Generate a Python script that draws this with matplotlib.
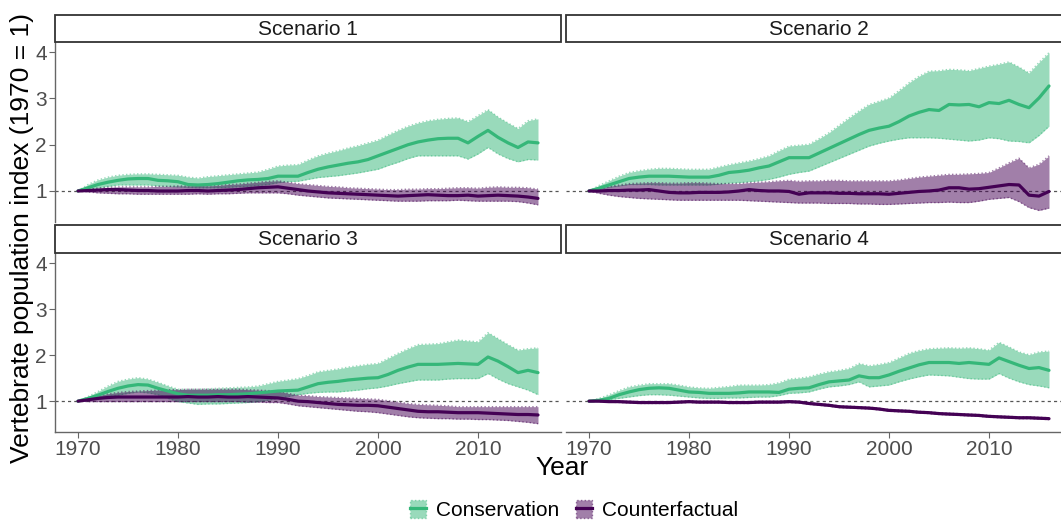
import numpy as np
import matplotlib
matplotlib.use("Agg")
import matplotlib.pyplot as plt
from matplotlib.patches import Patch, Rectangle
from matplotlib.lines import Line2D

plt.rcParams['font.family'] = ['Liberation Sans', 'DejaVu Sans']

years = list(range(1970, 2017))
scenarios = ["Scenario 1", "Scenario 2", "Scenario 3", "Scenario 4"]
x_ticks = [1970, 1980, 1990, 2000, 2010]
y_ticks = [1, 2, 3, 4]

# ---- Scenario 1 ----
s1_cons = [1.00, 1.07, 1.14, 1.19, 1.23, 1.26, 1.27, 1.27, 1.23, 1.22,
           1.20, 1.14, 1.13, 1.14, 1.16, 1.19, 1.22, 1.24, 1.25, 1.27,
           1.32, 1.32, 1.32, 1.40, 1.47, 1.52, 1.56, 1.60, 1.63, 1.68,
           1.76, 1.84, 1.92, 2.00, 2.06, 2.10, 2.13, 2.14, 2.14, 2.04,
           2.18, 2.31, 2.16, 2.04, 1.94, 2.06, 2.04]
s1_cons_lo = [1.00, 1.03, 1.07, 1.10, 1.13, 1.13, 1.13, 1.13, 1.11, 1.10,
              1.09, 1.08, 1.07, 1.07, 1.07, 1.08, 1.09, 1.10, 1.12, 1.14,
              1.18, 1.20, 1.21, 1.25, 1.29, 1.31, 1.33, 1.36, 1.39, 1.43,
              1.47, 1.55, 1.62, 1.70, 1.76, 1.76, 1.76, 1.76, 1.76, 1.69,
              1.80, 1.94, 1.80, 1.70, 1.63, 1.68, 1.67]
s1_cons_hi = [1.00, 1.14, 1.24, 1.30, 1.34, 1.36, 1.37, 1.37, 1.36, 1.35,
              1.34, 1.30, 1.28, 1.31, 1.33, 1.35, 1.37, 1.39, 1.41, 1.47,
              1.54, 1.56, 1.57, 1.67, 1.76, 1.82, 1.87, 1.93, 1.98, 2.04,
              2.10, 2.21, 2.31, 2.40, 2.47, 2.52, 2.55, 2.57, 2.58, 2.50,
              2.63, 2.76, 2.60, 2.47, 2.35, 2.52, 2.56]
s1_cf = [1.00, 1.01, 1.02, 1.03, 1.03, 1.02, 1.01, 1.01, 1.00, 1.00,
         1.00, 1.01, 1.01, 1.00, 1.01, 1.02, 1.03, 1.05, 1.07, 1.08,
         1.09, 1.06, 1.03, 1.00, 0.98, 0.96, 0.95, 0.94, 0.93, 0.92,
         0.91, 0.90, 0.89, 0.90, 0.91, 0.92, 0.91, 0.90, 0.90, 0.91,
         0.89, 0.90, 0.91, 0.90, 0.89, 0.87, 0.84]
s1_cf_lo = [1.00, 0.98, 0.96, 0.95, 0.94, 0.94, 0.93, 0.93, 0.93, 0.93,
            0.93, 0.93, 0.94, 0.93, 0.94, 0.94, 0.95, 0.96, 0.96, 0.96,
            0.96, 0.94, 0.91, 0.89, 0.87, 0.85, 0.84, 0.83, 0.82, 0.81,
            0.80, 0.79, 0.78, 0.78, 0.78, 0.79, 0.79, 0.79, 0.80, 0.79,
            0.78, 0.78, 0.78, 0.78, 0.77, 0.74, 0.70]
s1_cf_hi = [1.00, 1.04, 1.06, 1.08, 1.09, 1.09, 1.09, 1.09, 1.10, 1.10,
            1.11, 1.11, 1.12, 1.11, 1.12, 1.14, 1.15, 1.17, 1.19, 1.21,
            1.22, 1.19, 1.16, 1.14, 1.12, 1.10, 1.09, 1.07, 1.06, 1.05,
            1.04, 1.03, 1.03, 1.04, 1.04, 1.05, 1.05, 1.06, 1.07, 1.07,
            1.06, 1.08, 1.09, 1.08, 1.08, 1.07, 1.04]

# ---- Scenario 2 ----
s2_cons = [1.00, 1.06, 1.13, 1.20, 1.27, 1.30, 1.32, 1.32, 1.32, 1.31,
           1.30, 1.30, 1.30, 1.34, 1.40, 1.42, 1.45, 1.50, 1.54, 1.63,
           1.72, 1.72, 1.72, 1.82, 1.92, 2.02, 2.12, 2.22, 2.31, 2.36,
           2.40, 2.50, 2.62, 2.70, 2.76, 2.74, 2.87, 2.86, 2.87, 2.82,
           2.91, 2.89, 2.96, 2.87, 2.80, 3.01, 3.27]
s2_cons_lo = [1.00, 1.04, 1.08, 1.11, 1.14, 1.14, 1.14, 1.13, 1.13, 1.13,
              1.13, 1.13, 1.13, 1.15, 1.17, 1.18, 1.20, 1.22, 1.25, 1.30,
              1.36, 1.40, 1.43, 1.52, 1.61, 1.70, 1.79, 1.88, 1.97, 2.03,
              2.08, 2.12, 2.15, 2.15, 2.15, 2.14, 2.12, 2.10, 2.08, 2.10,
              2.15, 2.13, 2.08, 2.07, 2.04, 2.20, 2.40]
s2_cons_hi = [1.00, 1.12, 1.22, 1.32, 1.40, 1.44, 1.47, 1.49, 1.49, 1.48,
              1.47, 1.47, 1.47, 1.52, 1.57, 1.61, 1.65, 1.70, 1.76, 1.87,
              1.97, 1.99, 2.01, 2.13, 2.26, 2.42, 2.58, 2.73, 2.87, 2.94,
              3.01, 3.17, 3.34, 3.48, 3.59, 3.60, 3.63, 3.62, 3.60, 3.65,
              3.70, 3.74, 3.79, 3.68, 3.55, 3.78, 3.99]
s2_cf = [1.00, 1.00, 1.01, 1.01, 1.02, 1.02, 1.03, 1.00, 0.97, 0.96,
         0.96, 0.97, 0.97, 0.97, 0.98, 1.00, 1.03, 1.01, 1.00, 1.00,
         0.99, 0.93, 0.96, 0.96, 0.96, 0.95, 0.95, 0.94, 0.94, 0.94,
         0.93, 0.95, 0.97, 0.99, 1.00, 1.02, 1.07, 1.07, 1.04, 1.05,
         1.08, 1.11, 1.14, 1.13, 0.91, 0.89, 0.99]
s2_cf_lo = [1.00, 0.95, 0.91, 0.88, 0.86, 0.84, 0.83, 0.82, 0.81, 0.80,
            0.80, 0.80, 0.80, 0.80, 0.80, 0.80, 0.79, 0.78, 0.77, 0.76,
            0.75, 0.74, 0.74, 0.74, 0.73, 0.73, 0.73, 0.72, 0.72, 0.71,
            0.71, 0.72, 0.73, 0.74, 0.75, 0.75, 0.76, 0.75, 0.75, 0.78,
            0.82, 0.84, 0.86, 0.77, 0.64, 0.58, 0.63]
s2_cf_hi = [1.00, 1.06, 1.10, 1.13, 1.16, 1.17, 1.18, 1.18, 1.17, 1.17,
            1.18, 1.18, 1.17, 1.16, 1.16, 1.16, 1.18, 1.19, 1.20, 1.22,
            1.23, 1.21, 1.22, 1.22, 1.23, 1.23, 1.22, 1.22, 1.22, 1.22,
            1.22, 1.24, 1.27, 1.30, 1.32, 1.34, 1.36, 1.36, 1.37, 1.38,
            1.40, 1.50, 1.61, 1.71, 1.50, 1.58, 1.76]

# ---- Scenario 3 ----
s3_cons = [1.00, 1.06, 1.13, 1.21, 1.28, 1.33, 1.36, 1.35, 1.28, 1.22,
           1.16, 1.13, 1.13, 1.13, 1.14, 1.14, 1.15, 1.16, 1.18, 1.20,
           1.22, 1.23, 1.24, 1.31, 1.38, 1.41, 1.43, 1.46, 1.48, 1.50,
           1.51, 1.58, 1.67, 1.74, 1.80, 1.80, 1.80, 1.81, 1.82, 1.81,
           1.80, 1.96, 1.87, 1.75, 1.62, 1.67, 1.62]
s3_cons_lo = [1.00, 1.03, 1.06, 1.10, 1.13, 1.17, 1.20, 1.18, 1.14, 1.06,
              0.99, 0.96, 0.93, 0.94, 0.94, 0.95, 0.96, 0.97, 0.99, 1.02,
              1.06, 1.10, 1.14, 1.17, 1.19, 1.20, 1.20, 1.22, 1.24, 1.27,
              1.29, 1.33, 1.38, 1.42, 1.46, 1.46, 1.46, 1.48, 1.49, 1.49,
              1.49, 1.60, 1.48, 1.38, 1.31, 1.24, 1.14]
s3_cons_hi = [1.00, 1.10, 1.21, 1.33, 1.43, 1.48, 1.51, 1.48, 1.41, 1.33,
              1.26, 1.26, 1.26, 1.27, 1.28, 1.29, 1.30, 1.31, 1.33, 1.38,
              1.43, 1.46, 1.49, 1.56, 1.64, 1.67, 1.70, 1.74, 1.77, 1.80,
              1.82, 1.93, 2.04, 2.14, 2.23, 2.24, 2.25, 2.29, 2.33, 2.31,
              2.29, 2.49, 2.36, 2.23, 2.11, 2.14, 2.16]
s3_cf = [1.00, 1.03, 1.06, 1.08, 1.09, 1.09, 1.09, 1.09, 1.09, 1.09,
         1.09, 1.10, 1.09, 1.09, 1.10, 1.09, 1.09, 1.10, 1.09, 1.08,
         1.07, 1.04, 1.00, 0.99, 0.97, 0.95, 0.93, 0.92, 0.91, 0.91,
         0.90, 0.87, 0.84, 0.81, 0.78, 0.77, 0.77, 0.76, 0.75, 0.75,
         0.75, 0.74, 0.73, 0.72, 0.71, 0.71, 0.70]
s3_cf_lo = [1.00, 0.99, 0.99, 0.99, 0.99, 0.99, 0.99, 0.99, 0.99, 0.99,
            0.99, 0.99, 0.99, 0.99, 0.99, 0.99, 0.99, 0.98, 0.98, 0.97,
            0.97, 0.94, 0.90, 0.88, 0.86, 0.84, 0.82, 0.80, 0.78, 0.77,
            0.75, 0.72, 0.69, 0.66, 0.64, 0.63, 0.62, 0.62, 0.61, 0.61,
            0.60, 0.60, 0.59, 0.58, 0.56, 0.54, 0.51]
s3_cf_hi = [1.00, 1.07, 1.12, 1.16, 1.19, 1.21, 1.22, 1.23, 1.24, 1.25,
            1.25, 1.26, 1.26, 1.26, 1.26, 1.26, 1.26, 1.25, 1.24, 1.23,
            1.22, 1.17, 1.13, 1.12, 1.10, 1.09, 1.08, 1.07, 1.06, 1.05,
            1.04, 1.01, 0.98, 0.95, 0.93, 0.92, 0.91, 0.90, 0.88, 0.88,
            0.88, 0.88, 0.88, 0.88, 0.88, 0.88, 0.88]

# ---- Scenario 4 ----
s4_cons = [1.00, 1.02, 1.06, 1.14, 1.20, 1.25, 1.28, 1.29, 1.28, 1.24,
           1.20, 1.19, 1.17, 1.17, 1.17, 1.18, 1.20, 1.20, 1.20, 1.19,
           1.26, 1.28, 1.29, 1.36, 1.42, 1.44, 1.46, 1.55, 1.51, 1.51,
           1.57, 1.65, 1.72, 1.79, 1.84, 1.84, 1.84, 1.82, 1.84, 1.82,
           1.80, 1.94, 1.86, 1.78, 1.71, 1.73, 1.67]
s4_cons_lo = [1.00, 1.00, 1.03, 1.06, 1.09, 1.12, 1.14, 1.14, 1.13, 1.11,
              1.09, 1.07, 1.06, 1.06, 1.07, 1.07, 1.08, 1.09, 1.09, 1.12,
              1.17, 1.18, 1.20, 1.26, 1.31, 1.33, 1.36, 1.42, 1.31, 1.33,
              1.35, 1.42, 1.48, 1.53, 1.57, 1.56, 1.55, 1.52, 1.49, 1.48,
              1.48, 1.60, 1.50, 1.42, 1.36, 1.33, 1.29]
s4_cons_hi = [1.00, 1.06, 1.14, 1.23, 1.31, 1.35, 1.38, 1.38, 1.38, 1.35,
              1.31, 1.29, 1.28, 1.30, 1.32, 1.35, 1.35, 1.35, 1.36, 1.40,
              1.48, 1.50, 1.53, 1.59, 1.64, 1.67, 1.71, 1.82, 1.77, 1.80,
              1.84, 1.94, 2.04, 2.10, 2.14, 2.15, 2.16, 2.15, 2.16, 2.14,
              2.11, 2.28, 2.18, 2.07, 2.01, 2.07, 2.09]
s4_cf = [1.00, 1.00, 0.99, 0.99, 0.98, 0.97, 0.97, 0.97, 0.97, 0.98,
         0.99, 0.98, 0.98, 0.98, 0.97, 0.97, 0.97, 0.98, 0.98, 0.98,
         0.99, 0.98, 0.95, 0.93, 0.91, 0.88, 0.87, 0.86, 0.85, 0.83,
         0.80, 0.79, 0.78, 0.76, 0.75, 0.73, 0.72, 0.71, 0.70, 0.69,
         0.67, 0.66, 0.65, 0.64, 0.64, 0.63, 0.62]
s4_cf_lo = [1.00, 0.99, 0.98, 0.97, 0.96, 0.95, 0.95, 0.95, 0.95, 0.96,
            0.97, 0.96, 0.96, 0.96, 0.95, 0.95, 0.95, 0.96, 0.96, 0.96,
            0.97, 0.96, 0.93, 0.91, 0.89, 0.86, 0.85, 0.84, 0.83, 0.81,
            0.78, 0.77, 0.76, 0.74, 0.73, 0.71, 0.70, 0.69, 0.68, 0.67,
            0.65, 0.64, 0.63, 0.62, 0.62, 0.61, 0.60]
s4_cf_hi = [1.00, 1.01, 1.00, 1.00, 1.00, 0.99, 0.99, 0.99, 0.99, 1.00,
            1.01, 1.00, 1.00, 1.00, 0.99, 0.99, 0.99, 1.00, 1.00, 1.00,
            1.01, 1.00, 0.97, 0.95, 0.93, 0.90, 0.89, 0.88, 0.87, 0.85,
            0.82, 0.81, 0.80, 0.78, 0.77, 0.75, 0.74, 0.73, 0.72, 0.71,
            0.69, 0.68, 0.67, 0.66, 0.66, 0.65, 0.64]

panels = [
    (s1_cons, s1_cons_lo, s1_cons_hi, s1_cf, s1_cf_lo, s1_cf_hi),
    (s2_cons, s2_cons_lo, s2_cons_hi, s2_cf, s2_cf_lo, s2_cf_hi),
    (s3_cons, s3_cons_lo, s3_cons_hi, s3_cf, s3_cf_lo, s3_cf_hi),
    (s4_cons, s4_cons_lo, s4_cons_hi, s4_cf, s4_cf_lo, s4_cf_hi),
]

GREEN = "#35B779"
PURPLE = "#440154"
GREEN_FILL = "#9ADBBC"
PURPLE_FILL = "#A180A9"
TICK_COLOR = "#4D4D4D"
AXIS_COLOR = "#666666"

W, H = 1061, 522
fig = plt.figure(figsize=(W / 100, H / 100), dpi=100)


def frac_box(x0, y0, x1, y1):
    """Pixel box (top-left origin) to figure-fraction rect."""
    return [x0 / W, 1 - y1 / H, (x1 - x0) / W, (y1 - y0) / H]


col_x = [(55, 561), (566, 1072)]
row_y = [(42, 222), (253, 432)]
strip_y = [(15, 42), (225, 253)]

for i, name in enumerate(scenarios):
    r, c = divmod(i, 2)
    x0, x1 = col_x[c]
    y0, y1 = row_y[r]
    ax = fig.add_axes(frac_box(x0, y0, x1, y1))
    cons, cons_lo, cons_hi, cf, cf_lo, cf_hi = panels[i]

    ax.axhline(1, color="#555555", lw=0.9, ls=(0, (2.5, 2.5)), zorder=1)

    for mean, lo, hi, line_c, fill_c in [
        (cons, cons_lo, cons_hi, GREEN, GREEN),
        (cf, cf_lo, cf_hi, PURPLE, PURPLE),
    ]:
        ax.fill_between(years, lo, hi, color=fill_c, alpha=0.5, lw=0, zorder=2)
        ax.plot(years, lo, color=fill_c, alpha=0.5, lw=1.0, ls=":", zorder=2)
        ax.plot(years, hi, color=fill_c, alpha=0.5, lw=1.0, ls=":", zorder=2)
        ax.plot(years, mean, color=line_c, lw=2.3, zorder=3,
                solid_joinstyle="round", solid_capstyle="round")

    ax.set_xlim(1967.7, 2018.3)
    ax.set_ylim(0.33, 4.22)
    ax.set_xticks(x_ticks)
    ax.set_yticks(y_ticks)
    for s in ["top", "right"]:
        ax.spines[s].set_visible(False)
    ax.spines["left"].set_color(AXIS_COLOR)
    ax.spines["bottom"].set_color(AXIS_COLOR)
    ax.spines["left"].set_linewidth(1.0)
    ax.spines["bottom"].set_linewidth(1.0)
    ax.tick_params(colors=AXIS_COLOR, labelcolor=TICK_COLOR, labelsize=15,
                   length=4, width=0.8, pad=2)
    if c == 1:
        ax.spines["left"].set_visible(False)
        ax.tick_params(axis="y", left=False, labelleft=False)
    if r == 0:
        ax.spines["bottom"].set_visible(False)
        ax.tick_params(axis="x", bottom=False, labelbottom=False)
    ax.patch.set_alpha(0)

    # facet strip
    sy0, sy1 = strip_y[r]
    sax = fig.add_axes(frac_box(x0, sy0, x1, sy1))
    sax.set_xlim(0, 1)
    sax.set_ylim(0, 1)
    sax.axis("off")
    sax.add_patch(Rectangle((0, 0), 1, 1, transform=sax.transAxes,
                            facecolor="white", edgecolor="#333333",
                            lw=1.3, clip_on=False))
    cx = 0.5
    sax.text(cx, 0.48, name, ha="center", va="center", fontsize=15,
             color="#1A1A1A")

fig.text(562 / W, 1 - 468 / H, "Year", ha="center", va="center", fontsize=19)
fig.text(22 / W, 1 - 238 / H, "Vertebrate population index (1970 = 1)",
         ha="center", va="center", rotation=90, fontsize=19)

handles = [
    (Patch(facecolor=GREEN, alpha=0.5, edgecolor=GREEN, ls=":"),
     Line2D([0], [0], color=GREEN, lw=2.3)),
    (Patch(facecolor=PURPLE, alpha=0.5, edgecolor=PURPLE, ls=":"),
     Line2D([0], [0], color=PURPLE, lw=2.3)),
]
fig.legend(handles, ["Conservation", "Counterfactual"], loc="center",
           bbox_to_anchor=(574 / W, 1 - 510 / H), ncol=2, frameon=False,
           fontsize=15, handlelength=0.75, handleheight=1.0,
           handletextpad=0.5, columnspacing=0.8)

fig.savefig("out.png", dpi=100)
